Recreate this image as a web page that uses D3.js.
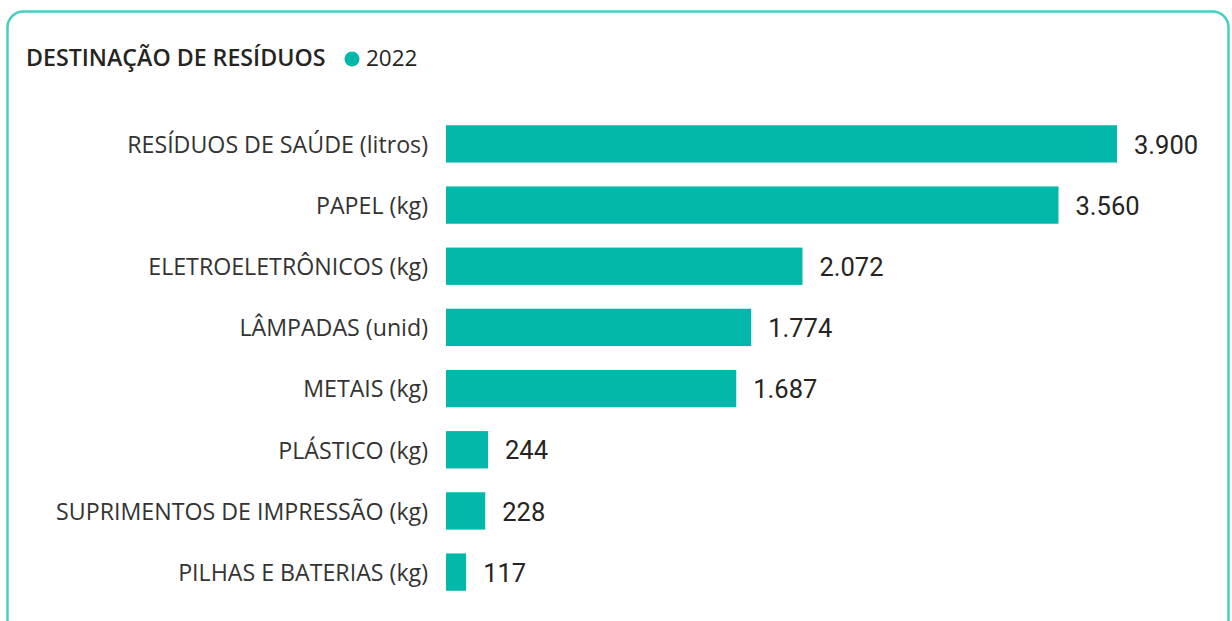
<!DOCTYPE html>
<html>
<head>
<meta charset="utf-8">
<script src="https://cdnjs.cloudflare.com/ajax/libs/d3/7.8.5/d3.min.js"></script>
<style>
  body { margin: 0; background: #fff; }
  svg { display: block; }
</style>
</head>
<body>
<svg width="1232" height="621"></svg>
<script>
  // data
  var categories = [
    "RESÍDUOS DE SAÚDE (litros)",
    "PAPEL (kg)",
    "ELETROELETRÔNICOS (kg)",
    "LÂMPADAS (unid)",
    "METAIS (kg)",
    "PLÁSTICO (kg)",
    "SUPRIMENTOS DE IMPRESSÃO (kg)",
    "PILHAS E BATERIAS (kg)"
  ];
  var values2022 = [3900, 3560, 2072, 1774, 1687, 244, 228, 117];
  var seriesName = "2022";

  var svg = d3.select("svg");
  var barColor = "#01B8AA";

  // card border
  svg.append("rect")
    .attr("x", 7.5).attr("y", 11.5)
    .attr("width", 1221).attr("height", 640)
    .attr("rx", 16).attr("ry", 16)
    .attr("fill", "#fff")
    .attr("stroke", "#45cfc0")
    .attr("stroke-width", 2.5);

  // title + legend
  svg.append("text")
    .attr("x", 26).attr("y", 66)
    .attr("font-family", "'Open Sans', sans-serif")
    .attr("font-weight", 600)
    .attr("font-size", 23.2)
    .attr("fill", "#252423")
    .text("DESTINAÇÃO DE RESÍDUOS");

  svg.append("circle")
    .attr("cx", 352).attr("cy", 59).attr("r", 7.5)
    .attr("fill", barColor);
  svg.append("text")
    .attr("x", 366).attr("y", 66)
    .attr("font-family", "'Open Sans', sans-serif")
    .attr("font-size", 22.5)
    .attr("fill", "#252423")
    .text(seriesName);

  var x = d3.scaleLinear().domain([0, 3900]).range([446, 1117]);
  var y = d3.scaleBand().domain(categories).range([113, 603]).paddingInner(0.39).paddingOuter(0.2);

  var fmt = function(v) { return d3.format(",")(v).replace(/,/g, "."); };

  var rows = svg.append("g").selectAll("g")
    .data(categories)
    .enter().append("g");

  rows.append("rect")
    .attr("x", x(0))
    .attr("y", function(d) { return y(d); })
    .attr("width", function(d, i) { return x(values2022[i]) - x(0); })
    .attr("height", y.bandwidth())
    .attr("fill", barColor);

  rows.append("text")
    .attr("x", 428)
    .attr("y", function(d) { return y(d) + y.bandwidth() / 2; })
    .attr("dy", "0.38em")
    .attr("text-anchor", "end")
    .attr("font-family", "'Open Sans', sans-serif")
    .attr("font-size", 23.2)
    .attr("fill", "#333")
    .text(function(d) { return d; });

  rows.append("text")
    .attr("x", function(d, i) { return x(values2022[i]) + 17; })
    .attr("y", function(d) { return y(d) + y.bandwidth() / 2; })
    .attr("dy", "0.38em")
    .attr("font-family", "Roboto, sans-serif")
    .attr("font-size", 25.5)
    .attr("fill", "#252423")
    .text(function(d, i) { return fmt(values2022[i]); });
</script>
</body>
</html>
